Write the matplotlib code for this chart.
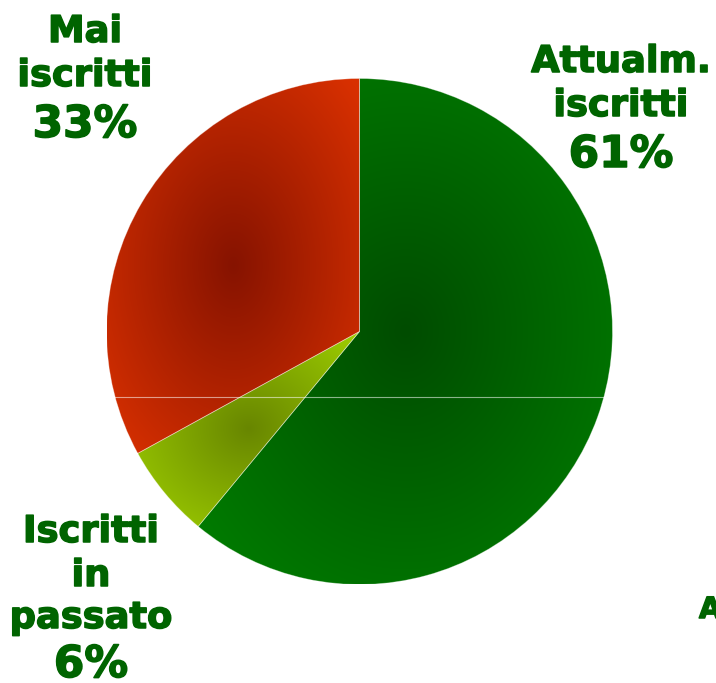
import numpy as np
import matplotlib
matplotlib.use("Agg")
import matplotlib.pyplot as plt
import matplotlib.patheffects as pe

# data
labels = [["Attualm.", "iscritti"], ["Iscritti", "in", "passato"], ["Mai", "iscritti"]]
values = [61, 6, 33]
light = ["#007e00", "#9ccc00", "#d83000"]
dark = ["#004c00", "#688600", "#861300"]

W, H = 716, 683
fig = plt.figure(figsize=(W / 100, H / 100), dpi=100)
ax = fig.add_axes([0, 0, 1, 1])

cx, cy, R = 359.5, H - 331.5, 253
wedges, _ = ax.pie(values, startangle=90, counterclock=False, center=(cx, cy),
                   radius=R, colors=light,
                   wedgeprops=dict(linewidth=0.6, edgecolor=(1, 1, 1, 0.35)))
ax.set_xlim(0, W)
ax.set_ylim(0, H)
ax.set_aspect("equal")
ax.axis("off")


def hexrgb(c):
    return np.array(matplotlib.colors.to_rgb(c))


# radial gradient over each slice bounding box, clipped to the slice
for w, c0, c1 in zip(wedges, dark, light):
    th = np.radians(np.linspace(w.theta1, w.theta2, 400))
    xs = np.concatenate([[cx], cx + R * np.cos(th)])
    ys = np.concatenate([[cy], cy + R * np.sin(th)])
    x0, x1, y0, y1 = xs.min(), xs.max(), ys.min(), ys.max()
    gx, gy = np.meshgrid(np.linspace(-1, 1, 300), np.linspace(-1, 1, 300))
    t = np.clip(np.hypot(gx, gy) / 1.35, 0, 1)[..., None]
    img = hexrgb(c0) + (hexrgb(c1) - hexrgb(c0)) * t
    im = ax.imshow(img, extent=(x0, x1, y0, y1), origin="lower",
                   interpolation="bilinear", zorder=1)
    im.set_clip_path(w)
    w.set_facecolor("none")
    w.set_zorder(2)

ax.set_xlim(0, W)
ax.set_ylim(0, H)

# faint horizontal seam across the pie
dy = 65
half = np.sqrt(R ** 2 - dy ** 2)
ax.plot([cx - half, cx + half], [cy - dy, cy - dy], color="white", alpha=0.55,
        lw=0.8, zorder=3)

txt = "#006400"
heavy = [pe.withStroke(linewidth=1.1, foreground=txt)]
font = dict(family="DejaVu Sans", weight="bold", color=txt, ha="center",
            va="baseline", path_effects=heavy)
# (center x, baselines of label lines, baseline of percent) in pixels
spots = [(621, [72, 116], 167), (91, [542, 586, 628], 677), (85, [42, 86], 137)]
for lines, v, (x, bls, pb) in zip(labels, values, spots):
    for line, b in zip(lines, bls):
        ax.text(x, H - b, line, fontsize=26.5, **font)
    ax.text(x, H - pb, f"{v}%", fontsize=31.5, **font)

ax.text(699, H - 618, "Altro", fontsize=21, family="DejaVu Sans",
        weight="bold", color=txt, ha="left", va="baseline", path_effects=heavy)

fig.savefig("out.png", dpi=100)
